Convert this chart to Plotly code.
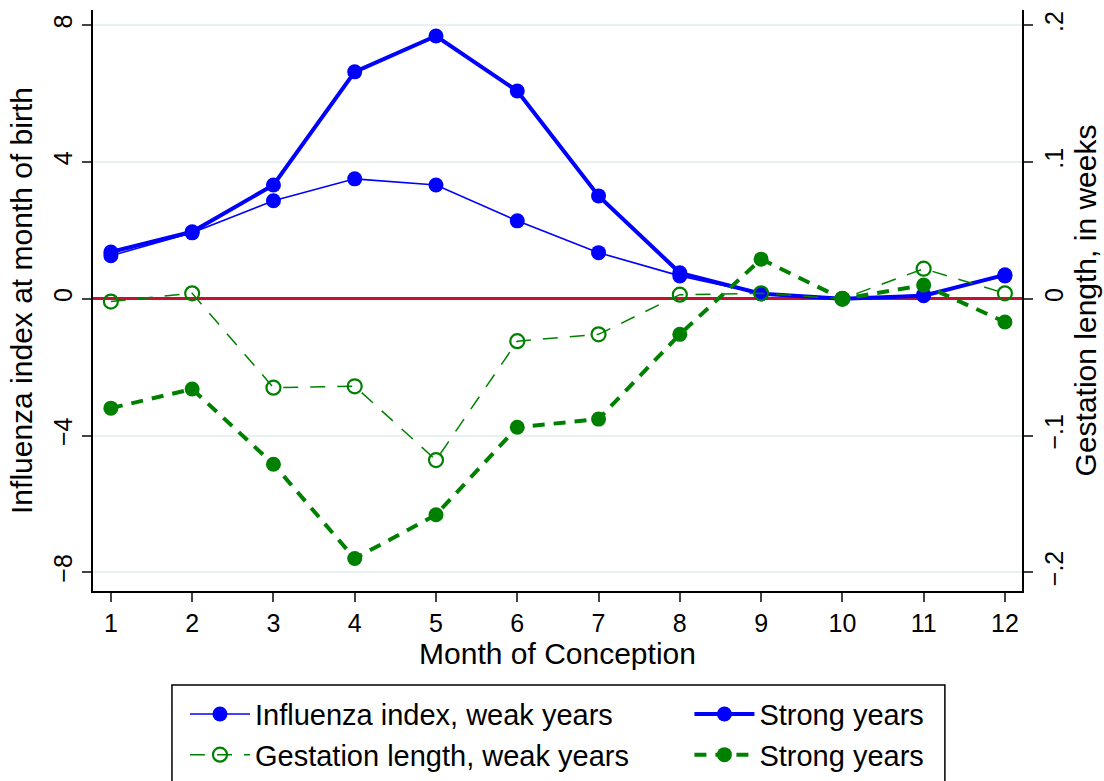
import plotly.graph_objects as go

months = list(range(1, 13))
flu_weak = [1.26, 1.93, 2.87, 3.51, 3.33, 2.28, 1.35, 0.67, 0.15, 0.0, 0.12, 0.67]
flu_strong = [1.37, 1.96, 3.33, 6.64, 7.69, 6.08, 3.01, 0.76, 0.15, 0.0, 0.09, 0.70]
gest_weak = [-0.002, 0.004, -0.065, -0.064, -0.118, -0.031, -0.026, 0.003, 0.004, 0.0, 0.022, 0.004]
gest_strong = [-0.080, -0.066, -0.121, -0.190, -0.158, -0.094, -0.088, -0.026, 0.029, 0.0, 0.010, -0.017]

left_ticks = [-8, -4, 0, 4, 8]
left_ticktext = ["−8", "−4", "0", "4", "8"]
right_ticks = [-0.2, -0.1, 0, 0.1, 0.2]
right_ticktext = ["−.2", "−.1", "0", ".1", ".2"]

BLUE = "#0000ff"
GREEN = "#008000"
FONT = "Liberation Sans, Arial, sans-serif"

fig = go.Figure()
fig.add_trace(go.Scatter(x=months, y=flu_weak, mode="lines+markers", name="Influenza index, weak years",
                         legend="legend",
                         line=dict(color=BLUE, width=1.6), marker=dict(color=BLUE, size=15)))
fig.add_trace(go.Scatter(x=months, y=flu_strong, mode="lines+markers", name="Strong years",
                         legend="legend2",
                         line=dict(color=BLUE, width=4), marker=dict(color=BLUE, size=15)))
fig.add_trace(go.Scatter(x=months, y=gest_weak, mode="lines+markers", name="Gestation length, weak years",
                         yaxis="y2", legend="legend",
                         line=dict(color=GREEN, width=1.5, dash="15px,12px"),
                         marker=dict(color=GREEN, size=14, symbol="circle-open", line=dict(color=GREEN, width=2.2))))
fig.add_trace(go.Scatter(x=months, y=gest_strong, mode="lines+markers", name="Strong years",
                         yaxis="y2", legend="legend2",
                         line=dict(color=GREEN, width=4, dash="12px,9px"),
                         marker=dict(color=GREEN, size=15)))

# legend frame (Stata-style box around both legend columns)
fig.add_shape(type="rect", xref="paper", yref="paper", x0=0.085, x1=0.917, y0=-0.1618, y1=-0.40,
              line=dict(color="black", width=1.5), fillcolor="rgba(0,0,0,0)", layer="above")

leg_common = dict(orientation="v", yanchor="top", xanchor="left", borderwidth=0,
                  bgcolor="rgba(0,0,0,0)", itemwidth=60, font=dict(size=29), tracegroupgap=0,
                  traceorder="normal")

fig.update_layout(
    width=1104, height=781,
    margin=dict(l=93, r=82, t=10, b=190, autoexpand=False),
    paper_bgcolor="white", plot_bgcolor="white",
    font=dict(family=FONT, size=25, color="black"),
    xaxis=dict(range=[0.78, 12.21], tickvals=months, ticks="outside", ticklen=9, tickwidth=1.5,
               showline=True, linecolor="black", linewidth=1.5, showgrid=False, zeroline=False,
               title=dict(text="Month of Conception", standoff=4), tickfont=dict(size=25)),
    yaxis=dict(range=[-8.55, 8.45], tickvals=left_ticks, ticktext=left_ticktext, tickangle=-90,
               ticks="outside", ticklen=9, tickwidth=1.5, showline=True, linecolor="black", linewidth=1.5,
               showgrid=True, gridcolor="#e8f0f2", gridwidth=2,
               zeroline=True, zerolinecolor="#c8102e", zerolinewidth=2.5,
               title=dict(text="Influenza index at month of birth", standoff=8)),
    yaxis2=dict(range=[-8.55 / 40, 8.45 / 40], tickvals=right_ticks, ticktext=right_ticktext, tickangle=-90,
                overlaying="y", side="right",
                ticks="outside", ticklen=9, tickwidth=1.5, showline=True, linecolor="black", linewidth=1.5,
                showgrid=False, zeroline=False,
                title=dict(text="Gestation length, in weeks", standoff=8)),
    legend=dict(x=0.099, y=-0.168, **leg_common),
    legend2=dict(x=0.642, y=-0.168, **leg_common),
    showlegend=True,
)

fig.write_html("out.html")
